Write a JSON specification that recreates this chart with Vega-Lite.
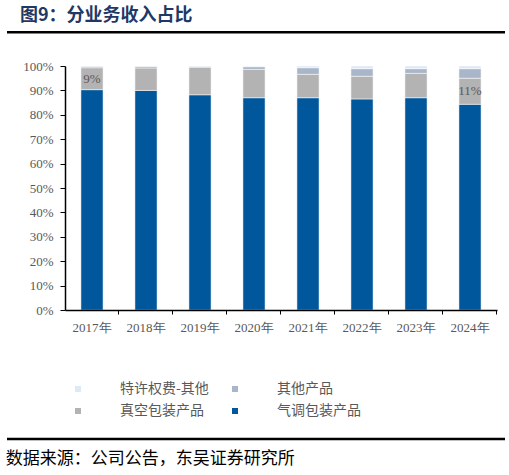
{
  "$schema": "https://vega.github.io/schema/vega-lite/v6.json",
  "background": "#ffffff",
  "padding": {"left": 5, "top": 7, "right": 0, "bottom": 0},
  "spacing": 19,
  "resolve": {"scale": {"color": "independent"}, "legend": {"color": "independent"}},
  "config": {
    "view": {"stroke": null}
  },
  "vconcat": [
    {
      "width": 498,
      "height": 10,
      "title": {
        "text": "图9：分业务收入占比",
        "anchor": "start",
        "dx": 13,
        "offset": 6,
        "font": "Noto Sans CJK SC",
        "fontSize": 18,
        "fontWeight": "bold",
        "color": "#1f3864"
      },
      "data": {"values": [{"a": 0, "b": 1, "lo": 0.75, "hi": 1}]},
      "mark": {"type": "bar", "color": "#000000"},
      "encoding": {
        "x": {"field": "a", "type": "quantitative", "scale": {"domain": [0, 1]}, "axis": null},
        "x2": {"field": "b"},
        "y": {"field": "lo", "type": "quantitative", "scale": {"domain": [0, 1]}, "axis": null},
        "y2": {"field": "hi"}
      }
    },
    {
      "width": 498,
      "height": 244,
      "data": {
        "values": [
          {"year": "2017年", "product": "气调包装产品", "rank": 1, "share": 0.903},
          {"year": "2017年", "product": "真空包装产品", "rank": 2, "share": 0.090},
          {"year": "2017年", "product": "其他产品", "rank": 3, "share": 0.006},
          {"year": "2017年", "product": "特许权费-其他", "rank": 4, "share": 0.001},
          {"year": "2018年", "product": "气调包装产品", "rank": 1, "share": 0.900},
          {"year": "2018年", "product": "真空包装产品", "rank": 2, "share": 0.092},
          {"year": "2018年", "product": "其他产品", "rank": 3, "share": 0.007},
          {"year": "2018年", "product": "特许权费-其他", "rank": 4, "share": 0.001},
          {"year": "2019年", "product": "气调包装产品", "rank": 1, "share": 0.882},
          {"year": "2019年", "product": "真空包装产品", "rank": 2, "share": 0.113},
          {"year": "2019年", "product": "其他产品", "rank": 3, "share": 0.004},
          {"year": "2019年", "product": "特许权费-其他", "rank": 4, "share": 0.001},
          {"year": "2020年", "product": "气调包装产品", "rank": 1, "share": 0.870},
          {"year": "2020年", "product": "真空包装产品", "rank": 2, "share": 0.116},
          {"year": "2020年", "product": "其他产品", "rank": 3, "share": 0.011},
          {"year": "2020年", "product": "特许权费-其他", "rank": 4, "share": 0.003},
          {"year": "2021年", "product": "气调包装产品", "rank": 1, "share": 0.870},
          {"year": "2021年", "product": "真空包装产品", "rank": 2, "share": 0.096},
          {"year": "2021年", "product": "其他产品", "rank": 3, "share": 0.027},
          {"year": "2021年", "product": "特许权费-其他", "rank": 4, "share": 0.007},
          {"year": "2022年", "product": "气调包装产品", "rank": 1, "share": 0.865},
          {"year": "2022年", "product": "真空包装产品", "rank": 2, "share": 0.093},
          {"year": "2022年", "product": "其他产品", "rank": 3, "share": 0.031},
          {"year": "2022年", "product": "特许权费-其他", "rank": 4, "share": 0.011},
          {"year": "2023年", "product": "气调包装产品", "rank": 1, "share": 0.870},
          {"year": "2023年", "product": "真空包装产品", "rank": 2, "share": 0.100},
          {"year": "2023年", "product": "其他产品", "rank": 3, "share": 0.019},
          {"year": "2023年", "product": "特许权费-其他", "rank": 4, "share": 0.011},
          {"year": "2024年", "product": "气调包装产品", "rank": 1, "share": 0.843},
          {"year": "2024年", "product": "真空包装产品", "rank": 2, "share": 0.107},
          {"year": "2024年", "product": "其他产品", "rank": 3, "share": 0.039},
          {"year": "2024年", "product": "特许权费-其他", "rank": 4, "share": 0.011}
        ]
      },
      "encoding": {
        "x": {
          "field": "year",
          "type": "nominal",
          "scale": {"range": [58, 490], "paddingInner": 0.59, "paddingOuter": 0.295},
          "axis": {
            "title": null,
            "labelAngle": 0,
            "zindex": 1,
            "domainColor": "#000000",
            "domainWidth": 1.5,
            "tickColor": "#000000",
            "tickWidth": 1,
            "tickSize": 4,
            "bandPosition": 1.7195,
            "labelPadding": 7,
            "labelFont": "Liberation Serif",
            "labelFontSize": 13,
            "labelColor": "#595959"
          }
        }
      },
      "layer": [
        {
          "mark": {"type": "bar", "stroke": "#ffffff", "strokeWidth": 0.5},
          "encoding": {
            "y": {
              "field": "share",
              "type": "quantitative",
              "stack": "zero",
              "scale": {"domain": [0, 1]},
              "axis": {
                "title": null,
                "grid": false,
                "offset": -58,
                "zindex": 1,
                "format": ".0%",
                "values": [0, 0.1, 0.2, 0.3, 0.4, 0.5, 0.6, 0.7, 0.8, 0.9, 1],
                "labelOverlap": false,
                "domainColor": "#000000",
                "domainWidth": 1.5,
                "tickColor": "#000000",
                "tickWidth": 1,
                "tickSize": 5,
                "labelPadding": 7,
                "labelFont": "Liberation Serif",
                "labelFontSize": 13,
                "labelColor": "#595959"
              }
            },
            "color": {
              "field": "product",
              "type": "nominal",
              "scale": {
                "domain": ["特许权费-其他", "其他产品", "真空包装产品", "气调包装产品"],
                "range": ["#dde9f5", "#a9b5c9", "#b3b3b3", "#00579c"]
              },
              "legend": {
                "title": null,
                "orient": "none",
                "legendX": 64,
                "legendY": 316,
                "direction": "horizontal",
                "columns": 2,
                "padding": 0,
                "symbolType": "square",
                "symbolSize": 36,
                "symbolStrokeWidth": 0,
                "labelOffset": 35,
                "columnPadding": 19,
                "rowPadding": 8,
                "labelFont": "Noto Sans CJK SC",
                "labelFontSize": 14,
                "labelColor": "#595959",
                "labelLimit": 300
              }
            },
            "order": {"field": "rank", "type": "quantitative"}
          }
        },
        {
          "data": {
            "values": [
              {"year": "2017年", "share": 0.948, "label": "9%"},
              {"year": "2024年", "share": 0.897, "label": "11%"}
            ]
          },
          "mark": {
            "type": "text",
            "font": "Liberation Serif",
            "fontSize": 13,
            "color": "#595959",
            "baseline": "middle"
          },
          "encoding": {
            "y": {
              "field": "share",
              "type": "quantitative",
              "scale": {"domain": [0, 1]},
              "axis": {
                "title": null,
                "grid": false,
                "offset": -58,
                "zindex": 1,
                "format": ".0%",
                "values": [0, 0.1, 0.2, 0.3, 0.4, 0.5, 0.6, 0.7, 0.8, 0.9, 1],
                "labelOverlap": false,
                "domainColor": "#000000",
                "domainWidth": 1.5,
                "tickColor": "#000000",
                "tickWidth": 1,
                "tickSize": 5,
                "labelPadding": 7,
                "labelFont": "Liberation Serif",
                "labelFontSize": 13,
                "labelColor": "#595959"
              }
            },
            "text": {"field": "label"}
          }
        }
      ]
    },
    {
      "width": 498,
      "height": 1,
      "title": {
        "text": "数据来源：公司公告，东吴证券研究所",
        "orient": "bottom",
        "anchor": "start",
        "offset": 11,
        "font": "Noto Sans CJK SC",
        "fontSize": 17,
        "fontWeight": "normal",
        "color": "#000000"
      },
      "data": {"values": [{"v": 1}]},
      "mark": {"type": "rule", "color": "#000000", "strokeWidth": 2.5},
      "encoding": {
        "y": {"field": "v", "type": "quantitative", "scale": {"domain": [0, 1]}, "axis": null}
      }
    }
  ]
}
